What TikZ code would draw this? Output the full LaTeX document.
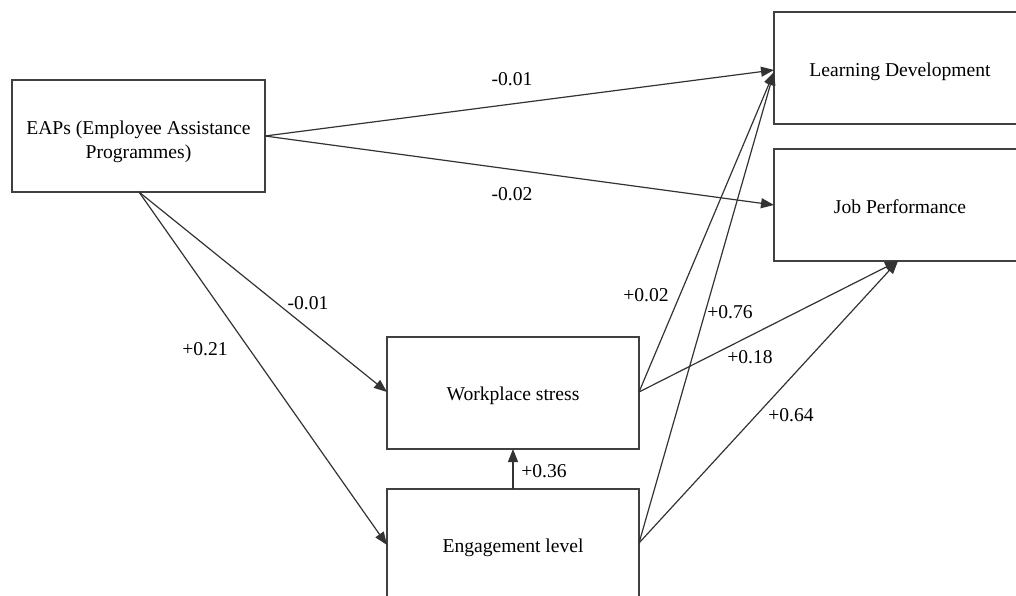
\documentclass[tikz,border=0pt]{standalone}
\usepackage{fontspec}
\setmainfont{Liberation Serif}
\usetikzlibrary{arrows.meta}
\begin{document}
\begin{tikzpicture}[x=1pt,y=-1pt,
  box/.style={draw=black!75,line width=1.4pt,fill=white},
  conn/.style={draw=black!80,line width=1.2pt,-{Triangle[length=13pt,width=10pt]}},
  lbl/.style={font=\fontsize{19.6}{24}\selectfont,inner sep=0pt},
  txt/.style={font=\fontsize{19.6}{24}\selectfont,align=center,inner sep=0pt}]
\useasboundingbox (0,0) rectangle (1016,596);
% boxes
\draw[box] (12,80) rectangle (265,192);
\node[txt] (eaps) at (138.5,142) {EAPs (Employee Assistance\\Programmes)};
\draw[box] (774,12) rectangle (1030,124);
\node[txt] (ld) at (900,71.5) {Learning Development};
\draw[box] (774,149) rectangle (1030,261);
\node[txt] (jp) at (900,206.5) {Job Performance};
\draw[box] (387,337) rectangle (639,449);
\node[txt] (ws) at (513,395.5) {Workplace stress};
\draw[box] (387,489) rectangle (639,610);
\node[txt] (el) at (513,547.5) {Engagement level};
% anchor coordinates
\coordinate (eapsR) at (265,136);
\coordinate (eapsB) at (139,192);
\coordinate (ldL) at (774,70);
\coordinate (ldL2) at (774,72);
\coordinate (jpL) at (774,205);
\coordinate (jpB) at (898,261);
\coordinate (wsL) at (387,392);
\coordinate (wsR) at (639,392);
\coordinate (wsB) at (513,449);
\coordinate (elL) at (387,545);
\coordinate (elR) at (639,543);
\coordinate (elT) at (513,489);
% connectors
\draw[conn] (eapsR) -- (ldL);
\draw[conn] (eapsR) -- (jpL);
\draw[conn] (eapsB) -- (wsL);
\draw[conn] (eapsB) -- (elL);
\draw[conn] (elT) -- (wsB);
\draw[conn] (wsR) -- (ldL2);
\draw[conn] (wsR) -- (jpB);
\draw[conn] (elR) -- (ldL2);
\draw[conn] (elR) -- (jpB);
% labels
\node[lbl] (l1) at (512,79) {-0.01};
\node[lbl] (l2) at (512,194) {-0.02};
\node[lbl] (l3) at (308,303) {-0.01};
\node[lbl] (l4) at (205,349) {+0.21};
\node[lbl] (l5) at (544,471) {+0.36};
\node[lbl] (l6) at (646,295) {+0.02};
\node[lbl] (l7) at (730,312) {+0.76};
\node[lbl] (l8) at (750,357) {+0.18};
\node[lbl] (l9) at (791,415) {+0.64};
\end{tikzpicture}
\end{document}
